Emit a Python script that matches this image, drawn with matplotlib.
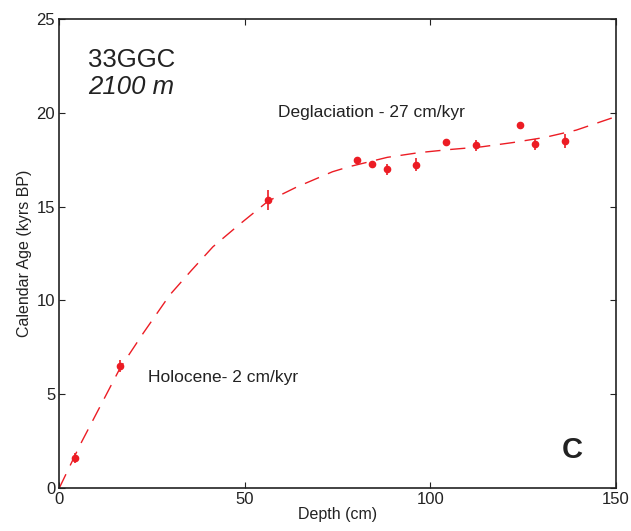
import numpy as np
import matplotlib
matplotlib.use('Agg')
import matplotlib.pyplot as plt

plt.rcParams['font.family'] = ['Liberation Sans', 'DejaVu Sans']

# ── Data ─────────────────────────────────────────────────────

depth = [4.3, 16.4, 56.3, 80.3, 84.3, 88.4, 96.2, 104.3, 112.2, 124.1, 128.3, 136.2]
age = [1.6, 6.5, 15.35, 17.5, 17.3, 17.0, 17.23, 18.44, 18.28, 19.35, 18.32, 18.5]
age_err = [0.25, 0.3, 0.55, 0.0, 0.0, 0.3, 0.35, 0.0, 0.3, 0.0, 0.3, 0.35]

fit_depth = [0, 5.6, 16.4, 22.6, 29.8, 35.6, 41.4, 48.1, 56.3, 63.8, 73.6, 78.1,
             88.4, 96.9, 105.4, 113.8, 122.3, 130.8, 139.3, 150]
fit_age = [0, 2.3, 6.4, 8.25, 10.3, 11.6, 12.86, 13.98, 15.3, 16.03, 16.86, 17.13,
           17.63, 17.88, 18.05, 18.19, 18.42, 18.69, 19.08, 19.8]

red = '#ec1c24'
ink = '#222222'

fig = plt.figure(figsize=(6.31, 5.31), dpi=100)
ax = fig.add_axes([0.094, 0.081, 0.882, 0.883])

ax.plot(fit_depth, fit_age, color=red, lw=1.0, dashes=(11, 7))
ax.errorbar(depth, age, yerr=age_err, fmt='o', color=red, ms=4.5,
            elinewidth=1.2, capsize=0)

ax.set_xlim(0, 150)
ax.set_ylim(0, 25)
ax.set_xticks([0, 50, 100, 150])
ax.set_yticks([0, 5, 10, 15, 20, 25])
ax.tick_params(direction='in', top=True, right=True, length=4,
               labelsize=12, pad=3, colors=ink)
for s in ax.spines.values():
    s.set_linewidth(1.2)
    s.set_color(ink)

ax.set_xlabel('Depth (cm)', fontsize=11.5, labelpad=0, color=ink)
ax.set_ylabel('Calendar Age (kyrs BP)', fontsize=11.5, labelpad=3, color=ink)

ax.text(7.7, 22.8, '33GGC', fontsize=18.5, color=ink, va='center')
ax.text(7.7, 21.4, '2100 m', fontsize=18.5, style='italic', color=ink, va='center')
ax.text(58.9, 20.0, 'Deglaciation - 27 cm/kyr', fontsize=12.5, color=ink, va='center')
ax.text(23.9, 5.9, 'Holocene- 2 cm/kyr', fontsize=12.5, color=ink, va='center')
ax.text(135.4, 2.0, 'C', fontsize=21, fontweight='bold', color=ink, va='center')

fig.savefig('out.png', dpi=100)
